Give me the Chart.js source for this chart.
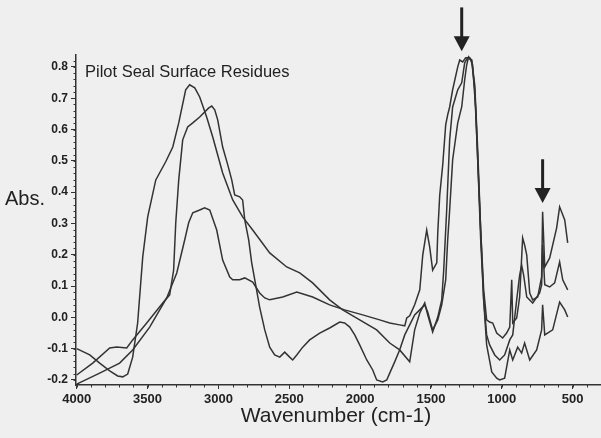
<!DOCTYPE html>
<html>
<head>
<meta charset="utf-8">
<script src="https://cdn.jsdelivr.net/npm/chart.js@4/dist/chart.umd.min.js"></script>
<style>
  body { margin: 0; background: #efefef; }
  #ir-chart { display: block; }
</style>
</head>
<body>
<canvas id="ir-chart" width="601" height="438"></canvas>
<script>
// tick labels
const WAVENUMBER_TICKS = [4000, 3500, 3000, 2500, 2000, 1500, 1000, 500];
const ABS_TICKS = [-0.2, -0.1, 0, 0.1, 0.2, 0.3, 0.4, 0.5, 0.6, 0.7, 0.8];

// spectrum 1 (tallest O-H band)
const spec1Wn = [4000, 3908, 3838, 3767, 3711, 3675, 3640, 3605, 3570, 3534, 3499, 3442, 3372, 3322, 3280, 3231, 3203, 3167, 3132, 3083, 3040, 2970, 2899, 2829, 2758, 2638, 2518, 2426, 2335, 2215, 2123, 2003, 1883, 1791, 1721, 1650, 1615, 1579, 1544, 1523, 1488, 1452, 1424, 1410, 1389, 1368, 1347, 1311, 1283, 1262, 1241, 1213, 1191, 1170, 1149, 1128, 1107, 1086, 1050, 1015, 980, 944, 923, 895, 874, 860, 846, 824, 782, 733, 719, 712, 697, 662, 627, 592, 570, 535];
const spec1Abs = [-0.10, -0.12, -0.146, -0.171, -0.187, -0.19, -0.181, -0.127, -0.018, 0.193, 0.321, 0.439, 0.497, 0.544, 0.621, 0.727, 0.743, 0.733, 0.704, 0.640, 0.576, 0.461, 0.375, 0.321, 0.279, 0.206, 0.161, 0.142, 0.110, 0.056, 0.024, -0.008, -0.040, -0.082, -0.104, -0.142, -0.040, 0.014, 0.046, 0.008, -0.047, 0.001, 0.056, 0.151, 0.343, 0.567, 0.672, 0.727, 0.749, 0.813, 0.829, 0.822, 0.727, 0.503, 0.247, 0.056, -0.056, -0.088, -0.120, -0.136, -0.120, -0.072, -0.056, 0.056, 0.135, 0.167, 0.135, 0.065, 0.046, 0.078, 0.104, 0.231, 0.104, 0.097, 0.110, 0.177, 0.120, 0.088];

// spectrum 2 (0.67 band, deep dip near 1950)
const spec2Wn = [4000, 3887, 3767, 3718, 3647, 3605, 3506, 3393, 3344, 3316, 3301, 3280, 3252, 3217, 3181, 3132, 3068, 3047, 3026, 3005, 2970, 2934, 2906, 2885, 2850, 2829, 2814, 2786, 2765, 2737, 2709, 2673, 2638, 2603, 2567, 2532, 2497, 2476, 2447, 2405, 2356, 2285, 2215, 2144, 2109, 2073, 2038, 2003, 1953, 1911, 1883, 1841, 1812, 1791, 1756, 1721, 1685, 1650, 1615, 1579, 1544, 1523, 1488, 1452, 1424, 1396, 1382, 1368, 1347, 1311, 1283, 1262, 1248, 1234, 1213, 1191, 1170, 1149, 1128, 1107, 1071, 1036, 1015, 980, 944, 923, 888, 860, 839, 803, 754, 719, 712, 697, 641, 592, 556, 535];
const spec2Abs = [-0.184, -0.146, -0.098, -0.095, -0.098, -0.072, -0.018, 0.046, 0.072, 0.151, 0.302, 0.439, 0.567, 0.608, 0.621, 0.640, 0.669, 0.675, 0.663, 0.631, 0.544, 0.487, 0.439, 0.391, 0.385, 0.375, 0.311, 0.247, 0.174, 0.104, 0.033, -0.040, -0.095, -0.120, -0.127, -0.111, -0.127, -0.136, -0.120, -0.095, -0.072, -0.050, -0.034, -0.015, -0.018, -0.031, -0.056, -0.088, -0.136, -0.168, -0.200, -0.206, -0.200, -0.178, -0.142, -0.104, -0.056, -0.024, 0.008, 0.024, 0.040, 0.017, -0.040, -0.008, 0.040, 0.120, 0.247, 0.343, 0.503, 0.621, 0.672, 0.759, 0.806, 0.832, 0.822, 0.743, 0.535, 0.279, 0.056, -0.088, -0.174, -0.194, -0.200, -0.194, -0.104, -0.136, -0.095, -0.114, -0.082, -0.136, -0.104, -0.040, 0.040, -0.056, -0.040, 0.049, 0.024, 0.001];

// spectrum 3 (low 0.34 band)
const spec3Wn = [4000, 3838, 3697, 3605, 3485, 3365, 3294, 3238, 3210, 3181, 3132, 3097, 3061, 3012, 2970, 2920, 2899, 2850, 2814, 2758, 2709, 2673, 2638, 2546, 2447, 2335, 2215, 2109, 1982, 1862, 1791, 1721, 1685, 1671, 1650, 1615, 1579, 1558, 1530, 1509, 1488, 1459, 1452, 1438, 1417, 1396, 1382, 1368, 1347, 1311, 1297, 1276, 1255, 1227, 1206, 1184, 1170, 1149, 1128, 1107, 1086, 1064, 1036, 994, 966, 944, 930, 923, 895, 874, 853, 839, 824, 803, 782, 747, 719, 712, 697, 662, 613, 592, 556, 535];
const spec3Abs = [-0.213, -0.178, -0.146, -0.104, -0.031, 0.062, 0.142, 0.247, 0.302, 0.334, 0.343, 0.350, 0.343, 0.279, 0.183, 0.129, 0.120, 0.120, 0.126, 0.113, 0.078, 0.062, 0.056, 0.065, 0.081, 0.065, 0.040, 0.024, 0.008, -0.008, -0.018, -0.024, -0.027, -0.002, 0.005, 0.040, 0.088, 0.199, 0.279, 0.225, 0.151, 0.174, 0.270, 0.391, 0.487, 0.615, 0.647, 0.672, 0.727, 0.800, 0.822, 0.816, 0.829, 0.829, 0.806, 0.663, 0.503, 0.279, 0.088, -0.008, -0.015, -0.018, -0.050, -0.066, -0.050, -0.031, 0.120, -0.018, -0.002, 0.065, 0.254, 0.231, 0.199, 0.078, 0.056, 0.065, 0.129, 0.337, 0.161, 0.190, 0.286, 0.353, 0.311, 0.238];

// arrows marking the bands of interest
const ARROW_WN = [1283, 712];
const ARROW_FROM = [0.99, 0.505];
const ARROW_TO = [0.85, 0.365];

const LINE_COLOR = '#333';
const FONT = '"Liberation Sans", Arial, sans-serif';

const toPoints = (wn, abs) => wn.map((x, i) => ({ x, y: abs[i] }));

const lineSet = (wn, abs) => ({
  data: toPoints(wn, abs),
  borderColor: LINE_COLOR,
  borderWidth: 1.5,
  pointRadius: 0,
  tension: 0,
  fill: false,
});

const decorations = {
  id: 'decorations',
  afterDraw(chart) {
    const { ctx, chartArea, scales: { x, y } } = chart;
    ctx.save();
    ctx.fillStyle = '#222';
    ctx.strokeStyle = LINE_COLOR;
    ctx.lineWidth = 1;

    // minor ticks on both axes
    ctx.beginPath();
    for (let v = -0.2; v <= 0.83; v += 0.02) {
      const py = Math.round(y.getPixelForValue(v)) + 0.5;
      ctx.moveTo(chartArea.left - 2.5, py);
      ctx.lineTo(chartArea.left, py);
    }
    for (let v = 4000; v >= 300; v -= 100) {
      const px = Math.round(x.getPixelForValue(v)) + 0.5;
      ctx.moveTo(px, chartArea.bottom);
      ctx.lineTo(px, chartArea.bottom + 2.5);
    }
    ctx.stroke();

    ctx.textBaseline = 'middle';
    ctx.font = '16.5px ' + FONT;
    ctx.textAlign = 'left';
    ctx.fillText('Pilot Seal Surface Residues', 85, 72);

    ctx.font = '20px ' + FONT;
    ctx.fillText('Abs.', 5, 199);

    ctx.font = '21px ' + FONT;
    ctx.textAlign = 'center';
    ctx.fillText('Wavenumber (cm-1)', 336, 416);

    // arrows
    ARROW_WN.forEach((wn, i) => {
      const px = x.getPixelForValue(wn);
      const top = y.getPixelForValue(ARROW_FROM[i]);
      const tip = y.getPixelForValue(ARROW_TO[i]);
      ctx.fillRect(px - 1.5, top, 3, tip - top - 12);
      ctx.beginPath();
      ctx.moveTo(px - 8, tip - 15);
      ctx.lineTo(px + 8, tip - 15);
      ctx.lineTo(px, tip);
      ctx.closePath();
      ctx.fill();
    });
    ctx.restore();
  },
};

// eslint-disable-next-line no-new
new Chart('ir-chart', {
  type: 'line',
  data: {
    datasets: [
      lineSet(spec1Wn, spec1Abs),
      lineSet(spec2Wn, spec2Abs),
      lineSet(spec3Wn, spec3Abs),
    ],
  },
  options: {
    responsive: false,
    animation: false,
    layout: { padding: { top: 55, right: 0, left: 0, bottom: 0 } },
    plugins: { legend: { display: false }, tooltip: { enabled: false } },
    scales: {
      x: {
        type: 'linear',
        reverse: true,
        min: 300,
        max: 4005,
        afterFit: scale => { scale.height = 53; },
        afterBuildTicks: scale => { scale.ticks = WAVENUMBER_TICKS.map(value => ({ value })); },
        grid: { drawOnChartArea: false, drawTicks: true, tickLength: 4, color: LINE_COLOR },
        border: { display: true, color: LINE_COLOR, width: 1.5 },
        ticks: {
          maxRotation: 0,
          padding: 3,
          color: '#222',
          font: { family: FONT, size: 13, weight: 'bold' },
          callback: v => String(v),
        },
      },
      y: {
        type: 'linear',
        min: -0.216,
        max: 0.838,
        afterFit: scale => { scale.width = 76; },
        afterBuildTicks: scale => { scale.ticks = ABS_TICKS.map(value => ({ value })); },
        grid: { drawOnChartArea: false, drawTicks: true, tickLength: 5, color: LINE_COLOR },
        border: { display: true, color: LINE_COLOR, width: 1.5 },
        ticks: {
          padding: 3,
          color: '#222',
          font: { family: FONT, size: 12, weight: 'bold' },
          callback: v => v.toFixed(1),
        },
      },
    },
  },
  plugins: [decorations],
});
</script>
</body>
</html>
